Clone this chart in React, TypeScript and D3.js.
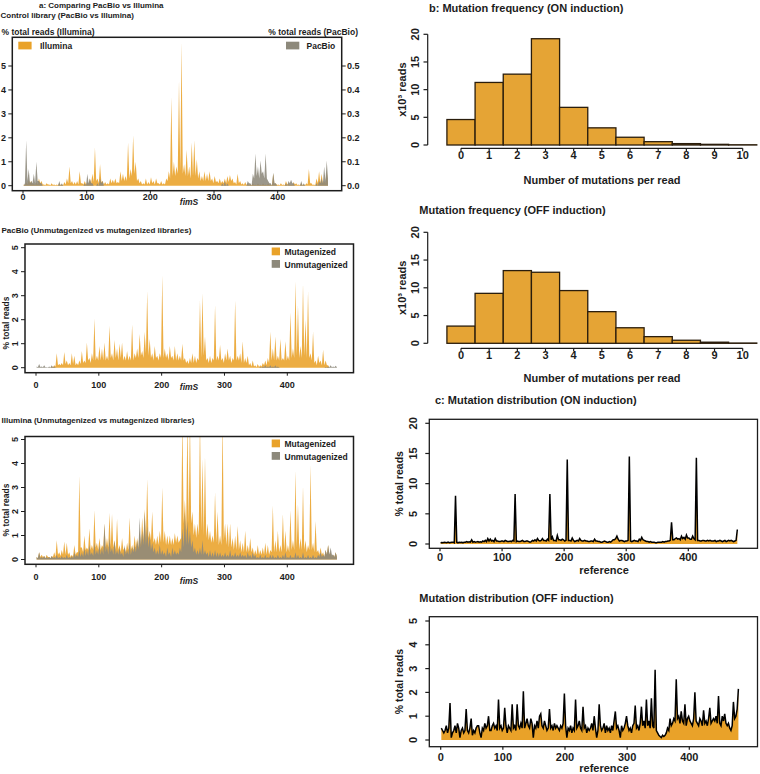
import React from 'react';
import * as d3 from 'd3';

const FONT = "'Liberation Sans', Arial, Helvetica, sans-serif";
const INK = '#1c1c1c';
const ORANGE = '#E9A229';
const GRAY = '#8D897B';
const BAR = '#E5A435';

const POS = d3.range(1, 480, 2);

// a: control library (PacBio vs Illumina), % total reads
const ctrlIllumina = [
	0.05, 0.02, 0.15, 0.05, 0.25, 0.1, 0.2, 0.05, 0.1, 0.02, 0.15, 0.05, 0.3, 0.1, 0.2, 0.05, 0.05, 0.02, 0.1, 0.05,
	0.05, 0.02, 0.1, 0.03, 0.05, 0.02, 0.05, 0.02, 0.1, 0.03, 0.05, 0.02, 0.15, 0.05, 0.3, 0.1, 0.8, 0.1, 0.2, 0.05,
	0.15, 0.05, 0.2, 0.05, 0.6, 0.1, 0.1, 0.05, 0.2, 0.05, 0.15, 0.05, 0.3, 0.1, 0.5, 0.15, 1.6, 0.2, 0.3, 0.1,
	0.9, 0.15, 0.2, 0.05, 0.15, 0.05, 0.1, 0.05, 0.3, 0.1, 0.25, 0.1, 0.3, 0.1, 0.15, 0.1, 0.6, 0.2, 0.5, 0.2,
	0.4, 0.2, 1.8, 0.3, 0.7, 0.4, 2.1, 0.5, 1.0, 0.2, 0.3, 0.1, 0.2, 0.05, 0.1, 0.05, 0.3, 0.05, 0.15, 0.05,
	0.35, 0.1, 0.2, 0.05, 0.3, 0.1, 0.1, 0.05, 0.2, 0.05, 0.1, 0.05, 0.3, 0.2, 0.6, 0.3, 3.7, 0.4, 1.0, 0.4,
	0.8, 0.5, 4.4, 0.6, 6.0, 0.5, 0.9, 0.4, 1.5, 0.4, 0.8, 0.3, 1.8, 0.4, 1.9, 0.4, 1.1, 0.3, 0.6, 0.2,
	0.4, 0.2, 0.6, 0.2, 0.5, 0.2, 0.6, 0.2, 0.3, 0.1, 0.4, 0.15, 0.2, 0.1, 0.3, 0.1, 0.2, 0.1, 0.3, 0.1,
	0.4, 0.15, 0.45, 0.2, 0.3, 0.1, 0.15, 0.05, 0.5, 0.1, 0.2, 0.05, 0.1, 0.03, 0.15, 0.03, 0.1, 0.02, 0.05, 0.02,
	0.1, 0.03, 0.05, 0.02, 0.1, 0.03, 0.05, 0.02, 0.1, 0.03, 0.05, 0.02, 0.1, 0.03, 0.05, 0.02, 0.5, 0.05, 0.1, 0.03,
	0.05, 0.02, 0.1, 0.03, 0.05, 0.02, 0.2, 0.05, 0.1, 0.03, 0.05, 0.02, 0.15, 0.05, 0.1, 0.03, 0.05, 0.02, 0.1, 0.03,
	0.05, 0.02, 0.1, 0.05, 0.7, 0.1, 0.1, 0.03, 0.05, 0.02, 0.3, 0.1, 0.6, 0.1, 0.5, 0.1, 0.2, 0.1, 0.6, 0.1,
];
const ctrlPacBio = [
	0, 0.01, 0.19, 0.02, 0.07, 0.01, 0.02, 0.01, 0.05, 0.01, 0.1, 0.02, 0.02, 0.01, 0.01, 0, 0, 0, 0, 0,
	0, 0, 0, 0, 0, 0, 0, 0, 0.02, 0, 0.01, 0, 0, 0, 0, 0, 0, 0, 0, 0,
	0, 0, 0, 0, 0, 0, 0, 0, 0.01, 0, 0.05, 0.01, 0.03, 0.01, 0.01, 0, 0, 0, 0.01, 0,
	0.03, 0.01, 0.02, 0, 0, 0, 0, 0, 0, 0, 0, 0, 0, 0, 0, 0, 0, 0, 0, 0,
	0, 0, 0, 0, 0, 0, 0, 0, 0, 0, 0, 0, 0, 0, 0, 0, 0, 0, 0, 0,
	0, 0, 0, 0, 0, 0, 0, 0, 0, 0, 0, 0, 0, 0, 0, 0, 0, 0, 0, 0,
	0, 0, 0, 0, 0, 0, 0, 0, 0, 0, 0, 0, 0, 0, 0, 0, 0, 0, 0, 0,
	0, 0, 0, 0, 0, 0, 0, 0, 0, 0, 0, 0, 0, 0, 0, 0, 0.01, 0, 0.02, 0,
	0.01, 0, 0, 0, 0, 0, 0, 0, 0, 0, 0, 0, 0, 0, 0, 0, 0.02, 0.01, 0.01, 0,
	0.05, 0.03, 0.135, 0.04, 0.08, 0.03, 0.105, 0.05, 0.06, 0.03, 0.135, 0.03, 0.02, 0.01, 0.01, 0, 0.055, 0.01, 0.01, 0,
	0, 0, 0, 0, 0, 0, 0.01, 0, 0.02, 0.01, 0.025, 0.01, 0.01, 0, 0, 0, 0, 0, 0.02, 0,
	0.01, 0, 0, 0, 0, 0, 0, 0, 0, 0, 0.01, 0, 0.02, 0.01, 0.03, 0.01, 0.08, 0.02, 0.105, 0.03,
];

// a: PacBio (unmutagenized vs mutagenized)
const pacMut = [
	0, 0, 0, 0, 0, 0, 0, 0, 0, 0, 0, 0, 0.05, 0.02, 0.1, 0.05, 0.6, 0.1, 0.15, 0.1,
	0.2, 0.1, 0.65, 0.15, 0.3, 0.1, 0.2, 0.1, 0.6, 0.15, 0.5, 0.1, 0.2, 0.1, 0.3, 0.15, 0.7, 0.2, 0.3, 0.2,
	1.05, 0.3, 0.4, 0.2, 0.6, 0.3, 2.05, 0.3, 0.5, 0.3, 0.9, 0.3, 0.8, 0.3, 1.05, 0.3, 0.5, 0.3, 1.75, 0.4,
	0.6, 0.3, 1.15, 0.4, 0.8, 0.3, 1.0, 0.4, 1.05, 0.3, 0.5, 0.3, 0.7, 0.3, 0.5, 0.3, 1.8, 0.3, 0.6, 0.4,
	0.8, 0.4, 1.4, 0.5, 0.7, 0.4, 1.5, 0.6, 3.2, 0.5, 1.2, 0.4, 0.6, 0.3, 0.9, 0.4, 0.5, 0.3, 0.6, 0.4,
	3.85, 0.4, 0.8, 0.4, 0.6, 0.3, 0.9, 0.4, 0.5, 0.3, 0.9, 0.3, 0.6, 0.3, 0.5, 0.3, 1.0, 0.3, 0.4, 0.2,
	0.3, 0.15, 0.4, 0.2, 0.6, 0.2, 0.5, 0.2, 0.4, 0.3, 2.8, 0.4, 3.1, 0.5, 1.3, 0.3, 0.4, 0.2, 0.5, 0.2,
	0.4, 0.3, 2.6, 0.3, 0.5, 0.3, 0.95, 0.3, 0.4, 0.2, 0.6, 0.3, 0.8, 0.3, 0.5, 0.2, 0.4, 0.3, 2.8, 0.3,
	0.5, 0.3, 0.6, 0.2, 1.1, 0.2, 0.4, 0.2, 0.5, 0.1, 0.2, 0.05, 0.3, 0.05, 0.1, 0.02, 0.15, 0.03, 0.1, 0.05,
	0.2, 0.1, 0.3, 0.1, 0.4, 0.2, 1.5, 0.3, 0.8, 0.3, 1.3, 0.3, 0.5, 0.3, 1.2, 0.3, 0.4, 0.3, 1.1, 0.3,
	0.5, 0.3, 2.3, 0.4, 0.8, 0.4, 3.6, 0.5, 2.6, 0.4, 0.9, 0.4, 3.5, 0.5, 2.0, 0.4, 3.2, 0.4, 0.6, 0.3,
	1.5, 0.2, 0.3, 0.1, 0.5, 0.2, 0.3, 0.1, 0.75, 0.1, 0.3, 0.1, 0.1, 0, 0, 0, 0, 0, 0, 0,
];
const pacUnmut = [
	0.05, 0.02, 0.15, 0.03, 0.05, 0.02, 0.1, 0.02, 0.02, 0.01, 0.05, 0.01, 0.1, 0.02, 0.05, 0.01, 0, 0, 0, 0,
	0, 0, 0, 0, 0, 0, 0, 0, 0, 0, 0, 0, 0, 0, 0, 0, 0, 0, 0, 0,
	0, 0, 0, 0, 0, 0, 0, 0, 0, 0, 0, 0, 0, 0, 0, 0, 0, 0, 0, 0,
	0, 0, 0, 0, 0, 0, 0, 0, 0, 0, 0, 0, 0, 0, 0, 0, 0, 0, 0, 0,
	0, 0, 0, 0, 0, 0, 0, 0, 0, 0, 0, 0, 0, 0, 0, 0, 0, 0, 0, 0,
	0, 0, 0, 0, 0, 0, 0, 0, 0, 0, 0, 0, 0, 0, 0, 0, 0, 0, 0, 0,
	0, 0, 0, 0, 0, 0, 0, 0, 0, 0, 0, 0, 0, 0, 0, 0, 0, 0, 0, 0,
	0, 0, 0, 0, 0, 0, 0, 0, 0, 0, 0, 0, 0, 0, 0, 0, 0, 0, 0, 0,
	0, 0, 0, 0, 0, 0, 0, 0, 0, 0, 0, 0, 0, 0, 0, 0, 0, 0, 0.03, 0.01,
	0.05, 0.02, 0.1, 0.02, 0.05, 0.02, 0.1, 0.02, 0.05, 0.02, 0.1, 0.02, 0.05, 0.01, 0, 0, 0, 0, 0, 0,
	0, 0, 0, 0, 0, 0, 0, 0, 0, 0, 0, 0, 0, 0, 0, 0, 0, 0, 0, 0,
	0, 0, 0, 0, 0, 0, 0, 0, 0, 0, 0.03, 0.01, 0.05, 0.02, 0.1, 0.02, 0.05, 0.02, 0.08, 0.02,
];

// a: Illumina (unmutagenized vs mutagenized)
const illMut = [
	0.1, 0.05, 0.3, 0.1, 0.2, 0.1, 0.15, 0.05, 0.2, 0.1, 0.1, 0.05, 0.15, 0.1, 0.3, 0.1, 0.8, 0.2, 0.3, 0.15,
	0.4, 0.2, 0.75, 0.2, 0.7, 0.2, 0.3, 0.1, 0.2, 0.1, 0.6, 0.2, 0.3, 0.3, 3.5, 0.5, 0.5, 0.3, 1.0, 0.4,
	0.5, 0.4, 1.3, 0.4, 0.6, 0.4, 2.05, 0.5, 0.7, 0.4, 0.9, 0.4, 0.6, 0.5, 1.5, 0.5, 0.9, 0.5, 1.95, 0.5,
	1.9, 0.5, 0.8, 0.4, 1.7, 0.4, 0.6, 0.3, 0.9, 0.4, 0.5, 0.3, 0.7, 0.4, 1.75, 0.4, 0.6, 0.4, 1.0, 0.5,
	0.9, 0.5, 1.2, 0.6, 1.75, 0.8, 2.1, 0.9, 3.35, 0.9, 1.2, 0.8, 2.0, 0.7, 0.9, 0.6, 1.0, 0.6, 1.2, 0.7,
	3.0, 0.7, 1.2, 0.6, 1.0, 0.6, 1.0, 0.6, 0.9, 0.6, 1.1, 0.7, 1.0, 0.7, 0.8, 0.9, 6, 1.5, 2.5, 1.2,
	6, 1.5, 6, 1.5, 2.0, 1.0, 1.5, 0.9, 1.5, 1.0, 6, 1.2, 4.2, 1.0, 4.3, 0.9, 1.5, 0.8, 1.2, 0.7,
	1.0, 0.7, 2.8, 0.7, 2.0, 0.6, 1.0, 0.6, 6, 0.8, 1.5, 0.6, 1.5, 0.5, 1.5, 0.5, 0.9, 0.4, 1.0, 0.4,
	1.4, 0.4, 0.8, 0.3, 0.7, 0.3, 1.2, 0.3, 0.6, 0.3, 0.9, 0.3, 0.5, 0.2, 0.4, 0.2, 0.6, 0.2, 0.4, 0.2,
	0.5, 0.2, 0.7, 0.2, 0.6, 0.2, 0.4, 0.3, 2.25, 0.3, 0.8, 0.3, 1.2, 0.3, 0.6, 0.3, 1.9, 0.4, 1.2, 0.3,
	0.6, 0.3, 2.05, 0.4, 0.8, 0.4, 3.7, 0.5, 2.3, 0.4, 0.9, 0.4, 3.05, 0.4, 0.8, 0.3, 0.6, 0.4, 3.95, 0.4,
	0.7, 0.3, 1.6, 0.3, 0.4, 0.2, 0.5, 0.2, 0.3, 0.1, 0.4, 0.2, 0.6, 0.2, 0.3, 0.1, 0.2, 0.1, 0.3, 0.1,
];
const illUnmut = [
	0.1, 0.05, 0.3, 0.05, 0.1, 0.05, 0.15, 0.05, 0.1, 0.05, 0.1, 0.05, 0.15, 0.05, 0.1, 0.05, 0.2, 0.05, 0.1, 0.05,
	0.15, 0.05, 0.1, 0.05, 0.2, 0.05, 0.1, 0.05, 0.15, 0.05, 0.3, 0.1, 0.2, 0.1, 0.4, 0.1, 0.3, 0.1, 0.5, 0.15,
	0.4, 0.15, 0.6, 0.2, 0.3, 0.15, 0.7, 0.2, 0.4, 0.2, 0.6, 0.2, 0.5, 0.2, 1.5, 0.3, 0.6, 0.2, 0.9, 0.3,
	0.5, 0.2, 0.8, 0.2, 0.4, 0.2, 0.5, 0.2, 0.3, 0.1, 0.6, 0.2, 0.4, 0.2, 0.7, 0.2, 0.5, 0.3, 0.6, 0.3,
	0.8, 0.4, 1.75, 0.5, 1.2, 0.6, 2.0, 0.6, 1.4, 0.5, 1.0, 0.4, 0.7, 0.3, 0.5, 0.2, 0.4, 0.2, 0.6, 0.2,
	0.4, 0.2, 0.3, 0.1, 0.5, 0.2, 0.3, 0.1, 0.5, 0.2, 0.4, 0.2, 0.3, 0.2, 0.5, 0.3, 1.3, 0.5, 2.0, 0.6,
	1.6, 0.6, 1.2, 0.5, 0.8, 0.3, 0.5, 0.2, 0.4, 0.2, 0.5, 0.2, 0.8, 0.2, 0.4, 0.2, 0.3, 0.1, 0.4, 0.1,
	0.3, 0.1, 0.4, 0.1, 0.3, 0.1, 0.3, 0.1, 0.2, 0.1, 0.3, 0.1, 0.2, 0.1, 0.4, 0.1, 0.2, 0.1, 0.3, 0.1,
	0.2, 0.1, 0.3, 0.1, 0.2, 0.1, 0.2, 0.05, 0.3, 0.1, 0.2, 0.05, 0.3, 0.1, 0.2, 0.05, 0.1, 0.05, 0.2, 0.05,
	0.1, 0.05, 0.2, 0.05, 0.1, 0.05, 0.2, 0.05, 0.2, 0.05, 0.1, 0.05, 0.2, 0.05, 0.1, 0.05, 0.2, 0.05, 0.3, 0.05,
	0.1, 0.05, 0.2, 0.05, 0.1, 0.05, 0.3, 0.05, 0.2, 0.05, 0.1, 0.05, 0.3, 0.05, 0.1, 0.05, 0.2, 0.05, 0.1, 0.05,
	0.2, 0.05, 0.1, 0.05, 0.2, 0.1, 0.3, 0.1, 0.2, 0.1, 0.4, 0.2, 0.6, 0.2, 0.5, 0.2, 0.2, 0.1, 0.3, 0.1,
];

// b: mutations per read, x10^3 reads
const nMut = [0, 1, 2, 3, 4, 5, 6, 7, 8, 9, 10];
const onCounts = [4.6, 11.3, 12.8, 19.2, 6.8, 3.1, 1.4, 0.6, 0.25, 0.12, 0.04];
const offCounts = [3.1, 9.0, 13.1, 12.8, 9.5, 5.7, 2.8, 1.2, 0.55, 0.2, 0.05];

// c: mutation distribution, % total reads per reference position
const onDist = [
	0.2, 0.25, 0.2, 0.3, 0.25, 0.2, 0.3, 0.2, 0.25, 0.3,
	0.3, 0.2, 8.0, 0.3, 0.2, 0.3, 0.25, 0.3, 0.2, 0.3,
	0.3, 0.4, 0.3, 0.35, 0.3, 0.7, 0.3, 0.4, 0.3, 0.35,
	0.4, 0.3, 0.35, 0.3, 0.5, 0.4, 0.6, 0.4, 0.9, 0.5,
	0.8, 0.5, 0.6, 0.4, 0.9, 0.5, 0.5, 0.4, 0.4, 0.5,
	0.5, 0.4, 0.6, 0.5, 0.4, 0.4, 0.5, 0.4, 0.6, 0.5,
	8.3, 0.4, 0.5, 0.4, 0.4, 0.5, 0.6, 0.4, 0.4, 0.5,
	0.5, 0.4, 0.3, 0.4, 0.6, 0.5, 0.7, 0.5, 0.9, 0.6,
	0.5, 0.6, 0.9, 0.6, 0.6, 0.5, 0.8, 0.6, 8.3, 0.7,
	1.2, 0.6, 0.6, 0.5, 1.4, 0.7, 0.7, 0.6, 0.8, 0.7,
	0.5, 0.6, 14.0, 0.6, 0.6, 0.5, 1.0, 0.6, 0.4, 0.5,
	0.6, 0.5, 0.9, 0.6, 0.5, 0.5, 0.6, 0.5, 0.5, 0.4,
	0.4, 0.5, 0.5, 0.4, 0.8, 0.5, 0.5, 0.4, 0.4, 0.3,
	0.3, 0.4, 0.5, 0.4, 0.3, 0.3, 0.4, 0.3, 0.5, 0.7,
	0.7, 0.9, 1.3, 0.8, 0.5, 0.6, 0.6, 0.5, 0.4, 0.5,
	0.5, 0.6, 14.5, 0.5, 0.4, 0.5, 0.6, 0.5, 0.5, 0.4,
	0.8, 0.6, 1.1, 0.7, 0.6, 0.5, 0.4, 0.4, 0.3, 0.4,
	0.3, 0.3, 0.3, 0.2, 0.2, 0.3, 0.3, 0.3, 0.3, 0.4,
	0.3, 0.4, 0.4, 0.5, 0.5, 0.6, 3.6, 0.7, 0.7, 0.9,
	1.0, 0.8, 0.9, 0.7, 1.3, 0.9, 1.1, 0.8, 1.5, 1.0,
	1.0, 0.8, 0.8, 1.3, 0.9, 0.7, 14.3, 0.6, 0.6, 0.5,
	0.5, 0.6, 0.6, 0.5, 0.5, 0.6, 0.5, 0.6, 0.5, 0.5,
	0.5, 0.6, 0.4, 0.5, 0.5, 0.6, 0.5, 0.4, 0.5, 0.6,
	0.4, 0.5, 0.6, 0.5, 0.6, 0.5, 0.4, 0.5, 0.6, 2.4,
];
const offDist = [
	0.5, 0.4, 0.3, 0.4, 0.6, 0.3, 0.5, 1.55, 0.1, 0.3,
	0.4, 0.6, 0.3, 0.7, 0.5, 0.1, 0.4, 0.5, 0.3, 0.4,
	1.3, 0.4, 0.3, 0.5, 0.9, 0.2, 0.4, 0.3, 0.5, 0.6,
	0.6, 0.3, 0.1, 0.5, 0.4, 0.7, 0.5, 0.6, 1.0, 0.4,
	0.4, 0.6, 0.7, 0.5, 0.6, 0.4, 1.7, 0.5, 0.6, 0.4,
	0.5, 1.35, 0.6, 0.3, 0.6, 0.5, 0.4, 1.5, 0.5, 0.6,
	0.4, 1.5, 0.6, 0.5, 0.7, 0.5, 2.05, 0.5, 0.7, 0.9,
	0.6, 0.5, 0.9, 0.7, 0.1, 0.6, 0.5, 0.8, 0.5, 1.0,
	1.1, 0.6, 0.5, 0.8, 0.6, 0.4, 0.5, 1.3, 0.5, 0.6,
	0.4, 0.7, 0.5, 0.6, 0.5, 0.4, 0.6, 0.5, 0.7, 1.95,
	0.6, 0.1, 0.5, 0.4, 0.6, 0.3, 0.5, 0.4, 1.7, 0.5,
	0.6, 0.8, 0.5, 0.4, 1.4, 0.5, 0.6, 0.3, 0.5, 0.4,
	0.5, 0.7, 0.4, 1.0, 0.5, 0.1, 0.4, 1.5, 0.6, 0.4,
	0.5, 0.7, 0.3, 0.6, 0.4, 0.5, 0.3, 0.6, 0.4, 0.8,
	1.2, 0.5, 0.6, 0.4, 0.1, 0.6, 0.4, 0.5, 0.7, 1.0,
	0.6, 0.4, 0.5, 0.3, 0.6, 0.7, 1.45, 0.5, 0.6, 0.4,
	0.7, 1.4, 0.6, 0.8, 0.5, 1.7, 0.6, 0.8, 0.5, 1.75,
	0.6, 0.5, 2.95, 0.4, 0.3, 0.2, 0.15, 0.1, 0.2, 0.15,
	0.2, 0.3, 0.5, 0.4, 0.9, 0.6, 0.7, 0.9, 0.8, 2.55,
	0.9, 1.0, 0.7, 1.2, 0.8, 0.7, 1.5, 0.6, 0.9, 1.0,
	0.8, 0.7, 0.6, 0.9, 2.0, 0.8, 0.7, 0.6, 0.9, 0.8,
	0.6, 1.25, 0.7, 0.8, 0.6, 0.9, 1.35, 0.7, 0.8, 0.9,
	0.8, 1.0, 0.7, 1.85, 0.7, 0.6, 1.0, 0.8, 1.1, 0.7,
	0.6, 0.7, 0.5, 0.4, 0.6, 1.6, 0.9, 1.0, 1.3, 2.15,
];

const posTicks = [0, 100, 200, 300, 400];
const fimsTicksY = [0, 1, 2, 3, 4, 5];
const pacTicksR = [0, 0.1, 0.2, 0.3, 0.4, 0.5];
const countTicks = [0, 5, 10, 15, 20];

type Box = { l: number; r: number; t: number; b: number };

function Label({ x, y, size, anchor = 'start', rot = false, italic = false, children }: any) {
	return (
		<text
			transform={`translate(${x},${y})${rot ? ' rotate(-90)' : ''}`}
			textAnchor={anchor}
			dominantBaseline="central"
			fontFamily={FONT}
			fontSize={size}
			fontWeight={700}
			fontStyle={italic ? 'italic' : 'normal'}
			fill={INK}
		>
			{children}
		</text>
	);
}

const areaPath = (x: any, y: any, vals: number[]) =>
	d3.area<number>().x((_, i) => x(POS[i])).y0(y(0)).y1(d => y(d))(vals) || '';
const linePath = (x: any, y: any, vals: number[]) =>
	d3.line<number>().x((_, i) => x(POS[i])).y(d => y(d))(vals) || '';

const Frame = ({ box, w = 1.5 }: { box: Box; w?: number }) => (
	<rect x={box.l} y={box.t} width={box.r - box.l} height={box.b - box.t} fill="none" stroke={INK} strokeWidth={w} />
);
const Clip = ({ id, box }: { id: string; box: Box }) => (
	<clipPath id={id}>
		<rect x={box.l} y={box.t} width={box.r - box.l} height={box.b - box.t} />
	</clipPath>
);

// one of the three fimS coverage plots of panel a
function FimsPlot({ id, box, xr, yr, layers, xLabelY, fimsY, rotY, legend }: any) {
	const x = d3.scaleLinear().domain([0, 400]).range(xr);
	const y = d3.scaleLinear().domain([0, 5]).range(yr);
	return (
		<g>
			<Clip id={id} box={box} />
			<g clipPath={`url(#${id})`}>
				{layers.map((L: any, k: number) => (
					<path key={k} d={areaPath(x, L.scale || y, L.vals)} fill={L.color} fillOpacity={0.88} />
				))}
			</g>
			<Frame box={box} />
			{posTicks.map(t => (
				<g key={t}>
					<line x1={x(t)} x2={x(t)} y1={box.b} y2={box.b + 3} stroke={INK} />
					<Label x={x(t)} y={xLabelY} size={9} anchor="middle">{t}</Label>
				</g>
			))}
			<Label x={189} y={fimsY} size={8.5} anchor="middle" italic>fimS</Label>
			{fimsTicksY.map(t => (
				<g key={t}>
					<line x1={box.l - 4} x2={box.l} y1={y(t)} y2={y(t)} stroke={INK} />
					{rotY ? (
						<Label x={15} y={y(t)} size={9} anchor="middle" rot>{t}</Label>
					) : (
						<Label x={6} y={y(t)} size={9} anchor="end">{t}</Label>
					)}
				</g>
			))}
			{legend}
		</g>
	);
}

const LegendTwo = ({ top }: { top: number }) => (
	<g>
		<rect x={271.7} y={top} width={8.3} height={7.8} fill={ORANGE} />
		<Label x={284.5} y={top + 4.5} size={8.5}>Mutagenized</Label>
		<rect x={271.7} y={top + 12.5} width={8.3} height={7.8} fill={GRAY} />
		<Label x={284.5} y={top + 17} size={8.5}>Unmutagenized</Label>
	</g>
);

function PanelA() {
	const top: Box = { l: 12.3, r: 341.7, t: 37.3, b: 190.7 };
	const yR = d3.scaleLinear().domain([0, 0.5]).range([185.7, 66]);
	return (
		<g>
			<Label x={39} y={5.5} size={8}>a: Comparing PacBio vs Illumina</Label>
			<Label x={0.5} y={15.5} size={8}>Control library (PacBio vs Illumina)</Label>
			<Label x={1.5} y={31.5} size={8.5}>% total reads (Illumina)</Label>
			<Label x={358} y={31.5} size={8.5} anchor="end">% total reads (PacBio)</Label>
			<FimsPlot
				id="clipCtrl"
				box={top}
				xr={[23, 277.7]}
				yr={[185.7, 66]}
				layers={[
					{ vals: ctrlIllumina, color: ORANGE },
					{ vals: ctrlPacBio, color: GRAY, scale: yR },
				]}
				xLabelY={197}
				fimsY={201.5}
				legend={
					<g>
						<rect x={18.3} y={41.7} width={13.3} height={7.7} fill={ORANGE} />
						<Label x={40} y={45.7} size={8.5}>Illumina</Label>
						<rect x={286} y={41.7} width={13.3} height={7.7} fill={GRAY} />
						<Label x={306.5} y={45.7} size={8.5}>PacBio</Label>
					</g>
				}
			/>
			{pacTicksR.map(t => (
				<g key={t}>
					<line x1={top.r} x2={top.r + 4} y1={yR(t)} y2={yR(t)} stroke={INK} />
					<Label x={347} y={yR(t)} size={9}>{t.toFixed(1)}</Label>
				</g>
			))}

			<Label x={1.5} y={230.7} size={8}>PacBio (Unmutagenized vs mutagenized libraries)</Label>
			<FimsPlot
				id="clipPac"
				box={{ l: 25, r: 353.5, t: 244, b: 372.7 }}
				xr={[36, 287.3]}
				yr={[367.7, 247.7]}
				layers={[
					{ vals: pacMut, color: ORANGE },
					{ vals: pacUnmut, color: GRAY },
				]}
				xLabelY={384.7}
				fimsY={387}
				rotY
				legend={<LegendTwo top={247.5} />}
			/>
			<Label x={6} y={323} size={8.5} anchor="middle" rot>% total reads</Label>

			<Label x={1.5} y={420} size={8}>Illumina (Unmutagenized vs mutagenized libraries)</Label>
			<FimsPlot
				id="clipIll"
				box={{ l: 25, r: 353.5, t: 436.5, b: 564.3 }}
				xr={[36, 287.3]}
				yr={[559.5, 439.5]}
				layers={[
					{ vals: illMut, color: ORANGE },
					{ vals: illUnmut, color: GRAY },
				]}
				xLabelY={577}
				fimsY={581}
				rotY
				legend={<LegendTwo top={439.5} />}
			/>
			<Label x={6} y={510} size={8.5} anchor="middle" rot>% total reads</Label>
		</g>
	);
}

// b: histogram of mutations per read
function Hist({ counts, yr, axisY, labelY, titleY }: any) {
	const x = d3.scaleLinear().domain([0, 10]).range([461, 742.7]);
	const y = d3.scaleLinear().domain([0, 20]).range(yr);
	const w = x(1) - x(0);
	return (
		<g>
			{counts.map((c: number, i: number) => (
				<rect key={i} x={x(nMut[i]) - w / 2} y={y(c)} width={w} height={y(0) - y(c)} fill={BAR} stroke="#2a1d0c" strokeWidth={1.3} />
			))}
			<line x1={427.7} x2={427.7} y1={y(0)} y2={y(20)} stroke={INK} strokeWidth={1.2} />
			{countTicks.map(t => (
				<g key={t}>
					<line x1={423.5} x2={427.7} y1={y(t)} y2={y(t)} stroke={INK} strokeWidth={1.2} />
					<Label x={415} y={y(t)} size={11} anchor="middle" rot>{t}</Label>
				</g>
			))}
			<line x1={x(0)} x2={x(10)} y1={axisY} y2={axisY} stroke={INK} strokeWidth={1.2} />
			{nMut.map(t => (
				<g key={t}>
					<line x1={x(t)} x2={x(t)} y1={axisY} y2={axisY + 3} stroke={INK} strokeWidth={1.2} />
					<Label x={x(t)} y={labelY} size={11} anchor="middle">{t}</Label>
				</g>
			))}
			<Label x={602} y={titleY} size={11} anchor="middle">Number of mutations per read</Label>
			<Label x={402} y={(y(0) + y(20)) / 2} size={11} anchor="middle" rot>
				x10³ reads
			</Label>
		</g>
	);
}

// c: mutation distribution along the reference
function Dist({ id, vals, box, xr, yr, yMax, ticks, labelY, refY }: any) {
	const x = d3.scaleLinear().domain([0, 400]).range(xr);
	const y = d3.scaleLinear().domain([0, yMax]).range(yr);
	return (
		<g>
			<Clip id={id} box={box} />
			<g clipPath={`url(#${id})`}>
				<path d={areaPath(x, y, vals)} fill={ORANGE} />
				<path d={linePath(x, y, vals)} fill="none" stroke="#000" strokeWidth={1.5} />
			</g>
			<Frame box={box} w={1.3} />
			{ticks.map((t: number) => (
				<g key={t}>
					<line x1={box.l - 4} x2={box.l} y1={y(t)} y2={y(t)} stroke={INK} strokeWidth={1.2} />
					<Label x={413} y={y(t)} size={11} anchor="middle" rot>{t}</Label>
				</g>
			))}
			{posTicks.map(t => (
				<g key={t}>
					<line x1={x(t)} x2={x(t)} y1={box.b} y2={box.b + 3} stroke={INK} strokeWidth={1.2} />
					<Label x={x(t)} y={labelY} size={11} anchor="middle">{t}</Label>
				</g>
			))}
			<Label x={604} y={refY} size={11} anchor="middle">reference</Label>
			<Label x={399} y={(box.t + box.b) / 2} size={10.5} anchor="middle" rot>% total reads</Label>
		</g>
	);
}

function PanelBC() {
	return (
		<g>
			<Label x={429} y={7.5} size={11}>b: Mutation frequency (ON induction)</Label>
			<Hist counts={onCounts} yr={[145, 34.3]} axisY={148.3} labelY={154.5} titleY={180} />
			<Label x={419.3} y={210} size={11}>Mutation frequency (OFF induction)</Label>
			<Hist counts={offCounts} yr={[343.3, 232.3]} axisY={348.3} labelY={355} titleY={378.3} />

			<Label x={435} y={400} size={11}>c: Mutation distribution (ON induction)</Label>
			<Dist
				id="clipOn"
				vals={onDist}
				box={{ l: 429.3, r: 757.5, t: 419.3, b: 548.3 }}
				xr={[440, 688.3]}
				yr={[544, 423.3]}
				yMax={20}
				ticks={countTicks}
				labelY={556.5}
				refY={569.5}
			/>
			<Label x={419.3} y={598.3} size={11}>Mutation distribution (OFF induction)</Label>
			<Dist
				id="clipOff"
				vals={offDist}
				box={{ l: 429.3, r: 757.5, t: 616.7, b: 746.7 }}
				xr={[440.7, 689.3]}
				yr={[740, 621]}
				yMax={5}
				ticks={fimsTicksY}
				labelY={756.5}
				refY={767.5}
			/>
		</g>
	);
}

export default function App() {
	return (
		<svg width={760} height={774} style={{ position: 'absolute', left: 0, top: 0, background: '#fff' }}>
			<PanelA />
			<PanelBC />
		</svg>
	);
}
